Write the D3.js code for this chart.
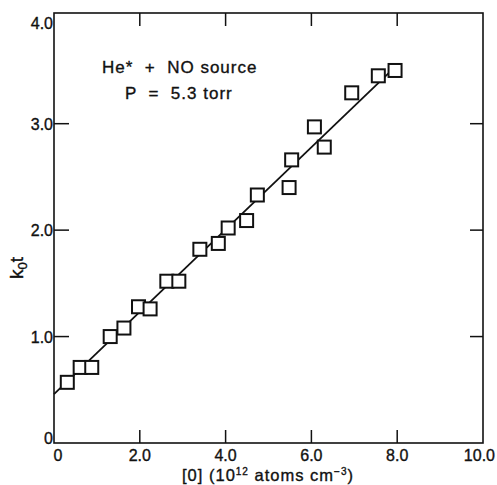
<!DOCTYPE html>
<html><head><meta charset="utf-8">
<script src="https://cdn.jsdelivr.net/npm/d3@7"></script>
<style>
body{margin:0;background:#fff;}
svg text{font-family:"Liberation Sans",Arial,Helvetica,sans-serif;fill:#111;stroke:#111;stroke-width:0.35px;}
</style></head>
<body><svg id="c" width="497" height="485"></svg>
<script>
const xValues = [0.31,0.61,0.88,1.31,1.63,1.97,2.24,2.63,2.91,3.40,3.83,4.06,4.49,4.74,5.48,5.54,6.07,6.30,6.94,7.56,7.95];
const yValues = [0.57,0.71,0.71,1.00,1.08,1.28,1.26,1.52,1.52,1.82,1.875,2.02,2.09,2.33,2.40,2.66,2.97,2.78,3.29,3.45,3.50];
const fitX = [0, 8.02];
const fitY = [0.46, 3.56];
const xTicks = [0,2,4,6,8,10];
const xTickLabels = ["0","2.0","4.0","6.0","8.0","10.0"];
const yTicks = [0,1,2,3,4];
const yTickLabels = ["0","1.0","2.0","3.0","4.0"];

const svg = d3.select("#c");
const L=54, R=483, T=13, B=443;
const x = d3.scaleLinear().domain([0,10]).range([L,R]);
const y = d3.scaleLinear().domain([0,4.04]).range([B,T]);
const ink="#111";

// frame
svg.append("rect").attr("x",L).attr("y",T).attr("width",R-L).attr("height",B-T)
  .attr("fill","none").attr("stroke",ink).attr("stroke-width",1.6);

// inner ticks
const tl=13;
const innerX=[2,4,6,8], innerY=[1,2,3];
innerX.forEach(v=>{
  svg.append("line").attr("x1",x(v)).attr("x2",x(v)).attr("y1",B).attr("y2",B-tl).attr("stroke",ink).attr("stroke-width",1.5);
  svg.append("line").attr("x1",x(v)).attr("x2",x(v)).attr("y1",T).attr("y2",T+tl).attr("stroke",ink).attr("stroke-width",1.5);
});
innerY.forEach(v=>{
  svg.append("line").attr("x1",L).attr("x2",L+15).attr("y1",y(v)).attr("y2",y(v)).attr("stroke",ink).attr("stroke-width",1.5);
  svg.append("line").attr("x1",R).attr("x2",R-tl).attr("y1",y(v)).attr("y2",y(v)).attr("stroke",ink).attr("stroke-width",1.5);
});

// x tick labels
xTicks.forEach((v,i)=>{
  let px=x(v), anchor="middle";
  if(i===0){px=x(v)+4;}
  if(i===xTicks.length-1){px=495;anchor="end";}
  svg.append("text").attr("x",px).attr("y",461).attr("text-anchor",anchor)
    .attr("font-size",16).text(xTickLabels[i]);
});
// y tick labels
yTicks.forEach((v,i)=>{
  let py=y(v)+6;
  if(i===0) py=y(v)+1;
  if(i===yTicks.length-1) py=y(v)+12;
  svg.append("text").attr("x",53).attr("y",py).attr("text-anchor","end")
    .attr("font-size",16).text(yTickLabels[i]);
});

// x axis title
const xt = svg.append("text").attr("x",268).attr("y",481).attr("text-anchor","middle")
  .attr("font-size",16.5).attr("letter-spacing",1);
xt.append("tspan").text("[0] (10");
xt.append("tspan").attr("font-size",10).attr("dy",-6).text("12");
xt.append("tspan").attr("dy",6).text(" atoms cm");
xt.append("tspan").attr("font-size",10).attr("dy",-6).text("\u22123");
xt.append("tspan").attr("dy",6).text(")");

// y axis title
const yt = svg.append("text").attr("transform","translate(23,268) rotate(-90)")
  .attr("text-anchor","middle").attr("font-size",19);
yt.append("tspan").text("k");
yt.append("tspan").attr("font-size",13).attr("dy",4).text("0");
yt.append("tspan").attr("dy",-4).text("t");

// fit line
svg.append("line").attr("x1",x(fitX[0])).attr("y1",y(fitY[0])).attr("x2",x(fitX[1])).attr("y2",y(fitY[1]))
  .attr("stroke",ink).attr("stroke-width",1.8);

// squares
const s=13;
svg.selectAll("rect.pt").data(xValues.map((v,i)=>[v,yValues[i]])).enter().append("rect")
  .attr("class","pt").attr("x",d=>x(d[0])-s/2).attr("y",d=>y(d[1])-s/2)
  .attr("width",s).attr("height",s).attr("fill","#fff").attr("stroke",ink).attr("stroke-width",2);

// annotation
svg.append("text").attr("x",102).attr("y",73).attr("font-size",17).attr("letter-spacing",1).attr("xml:space","preserve").text("He*  +  NO source");
svg.append("text").attr("x",125).attr("y",99).attr("font-size",17).attr("letter-spacing",1).attr("xml:space","preserve").text("P  =  5.3 torr");
</script></body></html>
